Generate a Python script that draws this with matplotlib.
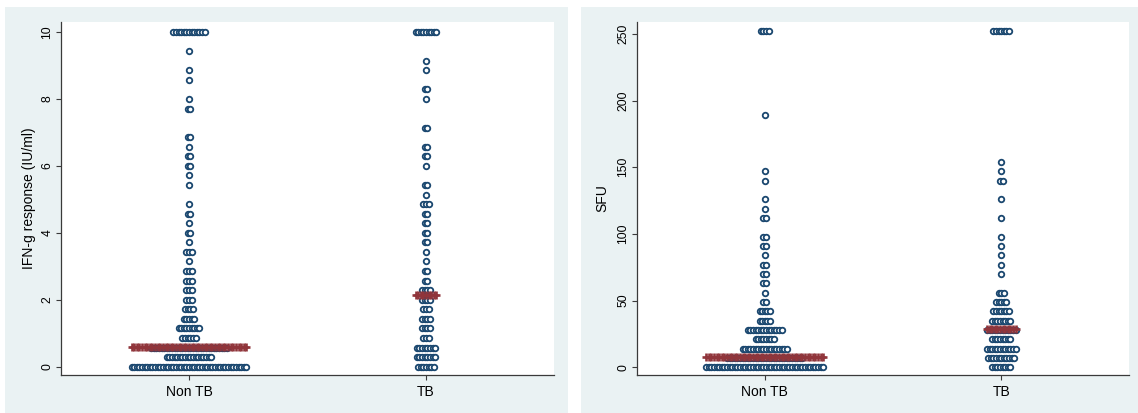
import numpy as np
import matplotlib
matplotlib.use("Agg")
import matplotlib.pyplot as plt
from matplotlib.patches import Rectangle

plt.rcParams['font.family'] = ['Liberation Sans', 'DejaVu Sans']

# ---------------- data ----------------
groups = ["Non TB", "TB"]

# IFN-g response (IU/ml): dot counts per bin (bin width 10/35), bins 0..35
ifn_bin_width = 10 / 35
ifn_nontb_counts = [45, 18, 30, 6, 9, 5, 4, 3, 3, 3, 3, 1, 3, 1, 2, 1, 2, 1, 0, 1,
                    1, 2, 2, 1, 2, 0, 0, 2, 1, 0, 1, 1, 0, 1, 0, 13]
ifn_tb_counts = [7, 8, 8, 3, 4, 4, 3, 4, 4, 2, 2, 1, 1, 2, 2, 2, 2, 3, 1, 2,
                 0, 1, 2, 2, 0, 2, 0, 0, 1, 2, 0, 1, 1, 0, 0, 9]
ifn_medians = [0.6, 2.13]

# SFU: dot counts per bin (bin width 7), bins 0..36
sfu_bin_width = 7
sfu_nontb_counts = [46, 30, 18, 8, 14, 5, 5, 2, 1, 2, 2, 2, 1, 2, 2, 0, 2, 1, 1, 0,
                    1, 1, 0, 0, 0, 0, 0, 1, 0, 0, 0, 0, 0, 0, 0, 0, 4]
sfu_tb_counts = [8, 11, 12, 8, 12, 8, 7, 5, 3, 0, 1, 1, 1, 1, 1, 0, 1, 0, 1, 0,
                 2, 1, 1, 0, 0, 0, 0, 0, 0, 0, 0, 0, 0, 0, 0, 0, 7]
sfu_medians = [8, 28.5]

panels = [
    dict(counts=[ifn_nontb_counts, ifn_tb_counts], bw=ifn_bin_width, med=ifn_medians,
         ylabel="IFN-g response (IU/ml)", yticks=[0, 2, 4, 6, 8, 10], ylim=(-0.25, 10.3)),
    dict(counts=[sfu_nontb_counts, sfu_tb_counts], bw=sfu_bin_width, med=sfu_medians,
         ylabel="SFU", yticks=[0, 50, 100, 150, 200, 250], ylim=(-5.8, 259)),
]

# ---------------- style ----------------
W, H = 1138, 413
NAVY = "#1A476F"
MAROON = "#90353B"
BG = "#EAF2F3"
AXC = "#3a3a3a"
DX = 0.011  # horizontal dot spacing in x data units

fig = plt.figure(figsize=(W / 100, H / 100), dpi=100)
fig.patch.set_facecolor("white")

bg_boxes = [(5, 7, 568, 413), (581, 7, 1138, 413)]
ax_boxes = [(61, 22, 554, 375), (637, 22, 1129, 375)]
ylabel_x = [36, 609]

for (bx0, by0, bx1, by1) in bg_boxes:
    fig.add_artist(Rectangle((bx0 / W, 1 - by1 / H), (bx1 - bx0) / W, (by1 - by0) / H,
                             transform=fig.transFigure, facecolor=BG, edgecolor="none", zorder=0))

for p, (x0, y0, x1, y1), lx in zip(panels, ax_boxes, ylabel_x):
    ax = fig.add_axes([x0 / W, 1 - y1 / H, (x1 - x0) / W, (y1 - y0) / H])
    ax.set_facecolor("white")
    for gi, counts in enumerate(p["counts"]):
        g = gi + 1
        for k, n in enumerate(counts):
            if n == 0:
                continue
            xs = g + (np.arange(n) - (n - 1) / 2) * DX
            ys = np.full(n, k * p["bw"])
            ax.plot(xs, ys, linestyle="none", marker="o", ms=4.0, mew=1.3,
                    mfc="white", mec=NAVY, zorder=3)
        nmax = max(counts)
        xs = g + (np.arange(nmax) - (nmax - 1) / 2) * DX
        ax.plot(xs, np.full(nmax, p["med"][gi]), linestyle="none", marker="+",
                ms=5.4, mew=1.9, color=MAROON, zorder=4)

    ax.set_xlim(0.46, 2.54)
    ax.set_ylim(*p["ylim"])
    ax.set_xticks([1, 2])
    ax.set_xticklabels(groups, fontsize=10)
    ax.set_yticks(p["yticks"])
    ax.set_yticklabels([str(t) for t in p["yticks"]], fontsize=8.7, rotation=90, va="center")
    ax.tick_params(axis="both", length=3.6, width=0.8, color=AXC, labelcolor="black")
    ax.tick_params(axis="x", pad=3.5)
    ax.tick_params(axis="y", pad=2)
    for s in ["top", "right"]:
        ax.spines[s].set_visible(False)
    for s in ["left", "bottom"]:
        ax.spines[s].set_color(AXC)
        ax.spines[s].set_linewidth(0.9)
    ax.set_ylabel(p["ylabel"], fontsize=10)
    ax.yaxis.set_label_coords((lx - x0) / (x1 - x0), 0.5)

fig.savefig("out.png", dpi=100)
